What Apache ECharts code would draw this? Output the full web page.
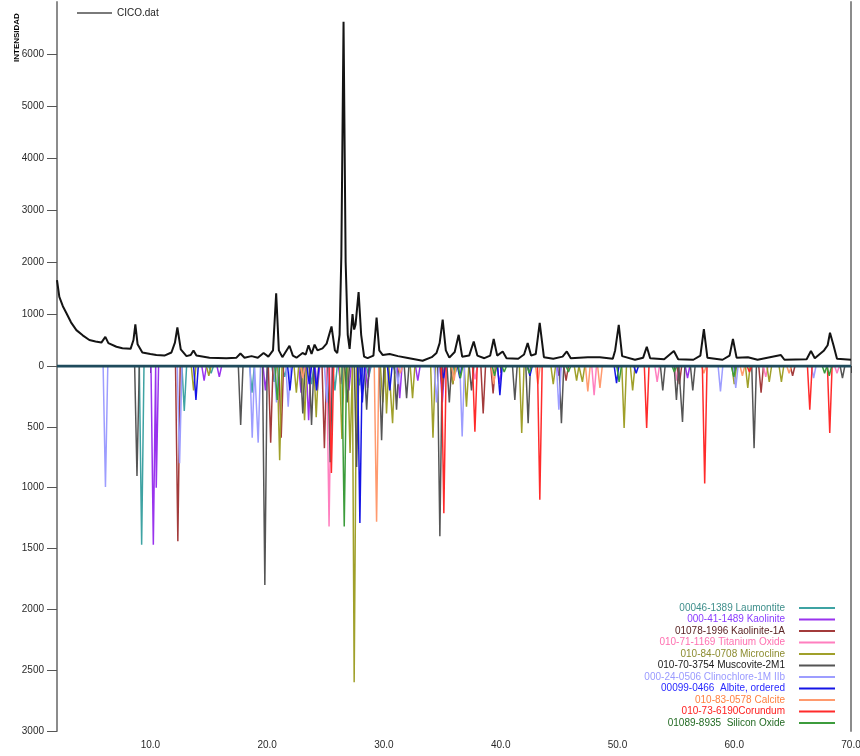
<!DOCTYPE html>
<html><head><meta charset="utf-8">
<script src="https://cdn.jsdelivr.net/npm/echarts@6/dist/echarts.min.js"></script>
<style>html,body{margin:0;padding:0;background:#fff}#c{width:860px;height:756px}</style>
</head><body><div id="c"></div>
<script>
// ---------- DATA ----------
const xTickValues = [10, 20, 30, 40, 50, 60, 70];
const yTopTicks = [0, 1000, 2000, 3000, 4000, 5000, 6000];
const yBottomTicks = [500, 1000, 1500, 2000, 2500, 3000];
const axisTitle = 'INTENSIDAD';
const observedName = 'CICO.dat';
// measured pattern [2theta, counts]
const observed = [
 [2.0,1650],[2.2,1330],[2.5,1150],[2.8,1020],[3.2,840],[3.66,690],[4.2,590],[4.77,500],[5.3,470],[5.8,450],
 [6.14,560],[6.4,440],[7.09,370],[7.6,340],[8.3,330],[8.55,500],[8.71,800],[8.9,420],[9.31,260],[10.0,230],
 [10.51,210],[11.2,200],[11.8,260],[12.1,450],[12.31,740],[12.6,320],[13.09,190],[13.45,210],[13.69,300],[13.94,200],
 [15.06,160],[16.5,150],[17.37,160],[17.71,240],[18.06,160],[18.66,190],[19.2,160],[19.69,250],[20.1,180],[20.5,300],
 [20.77,1400],[21.0,300],[21.3,170],[21.91,390],[22.2,200],[22.51,160],[23.03,250],[23.3,220],[23.54,400],[23.8,230],
 [24.06,410],[24.31,300],[24.74,340],[25.09,430],[25.51,760],[25.8,300],[26.0,250],[26.2,600],[26.35,2100],[26.54,6620],
 [26.72,2000],[26.9,600],[27.06,330],[27.31,1000],[27.45,700],[27.57,800],[27.83,1420],[28.05,600],[28.3,180],[28.6,150],
 [29.1,200],[29.37,930],[29.6,300],[29.9,210],[30.49,230],[31.2,190],[31.94,160],[33.31,100],[34.09,170],[34.5,250],
 [34.77,440],[35.03,890],[35.3,300],[35.6,160],[36.06,270],[36.4,600],[36.7,180],[37.3,200],[37.69,470],[38.0,200],
 [38.6,150],[39.1,200],[39.4,520],[39.7,200],[40.17,280],[40.5,150],[41.5,140],[42.0,220],[42.31,440],[42.6,200],
 [43.0,230],[43.34,830],[43.7,170],[44.5,140],[45.3,180],[45.66,280],[46.0,150],[47.46,170],[48.49,170],[49.6,140],
 [49.8,300],[50.11,790],[50.4,190],[51.5,120],[52.2,160],[52.51,370],[52.8,150],[54.0,130],[54.83,290],[55.2,130],
 [56.5,120],[57.1,200],[57.4,710],[57.7,160],[59.0,120],[59.6,200],[59.89,520],[60.2,160],[61.17,170],[62.0,120],
 [64.0,210],[64.3,120],[66.2,130],[66.57,290],[66.9,150],[67.69,300],[68.0,400],[68.2,640],[68.5,400],[68.8,140],[70.0,120]
];
const phaseNames = [
 '00046-1389 Laumontite','000-41-1489 Kaolinite','01078-1996 Kaolinite-1A','010-71-1169 Titanium Oxide',
 '010-84-0708 Microcline','010-70-3754 Muscovite-2M1','000-24-0506 Clinochlore-1M IIb','00099-0466  Albite, ordered',
 '010-83-0578 Calcite','010-73-6190Corundum','01089-8935  Silicon Oxide'
];
// reference peaks [2theta, intensity]
const laumontite = [[9.25,1470],[12.9,370],[15.2,60],[18.7,220],[20.6,130],[21.5,90],[23.8,150],[25.8,200],[27.9,160],[28.7,90],[31.0,60],[35.0,100],[36.1,60]];
const kaolinite41 = [[10.25,1470],[10.5,1000],[14.6,120],[15.9,90],[19.85,200],[22.9,220],[23.55,445],[24.3,200],[26.3,150],[27.0,200],[28.6,180],[31.35,265],[32.9,120],[35.0,300],[39.9,150],[45.0,80],[56.0,100]];
const kaolinite1A = [[12.35,1440],[20.3,630],[21.2,590],[24.9,675],[35.0,200],[35.9,150],[38.5,390],[39.35,225],[45.6,120],[55.3,150],[62.3,220],[65.0,80]];
const titaniumOxide = [[25.3,1320],[37.8,110],[48.0,240],[53.4,130],[55.1,120],[62.7,90],[68.8,60]];
const microcline = [[13.7,200],[15.0,80],[21.07,775],[22.5,220],[23.2,445],[24.2,420],[26.4,600],[27.1,715],[27.45,2600],[29.9,300],[30.22,390],[30.74,470],[32.45,265],[34.2,590],[35.9,150],[37.07,335],[41.8,550],[44.5,150],[46.5,120],[47.0,130],[50.57,510],[51.3,200],[60.0,150],[61.16,180],[63.0,130],[64.04,130]];
const muscovite = [[8.85,905],[17.73,485],[19.8,1800],[23.05,390],[23.8,485],[25.4,790],[26.85,300],[27.66,830],[28.52,360],[29.8,610],[31.08,360],[31.94,265],[34.79,1400],[35.6,300],[37.5,200],[41.21,280],[42.35,470],[45.2,470],[53.88,200],[55.05,280],[55.57,460],[56.45,200],[61.7,675],[69.27,100]];
const clinochlore = [[6.15,995],[12.5,800],[18.72,590],[19.23,630],[20.8,300],[21.8,335],[25.1,300],[31.2,150],[34.5,300],[36.7,580],[44.98,360],[58.82,210],[60.13,180],[66.8,100]];
const albite = [[13.9,280],[21.95,200],[23.6,150],[24.23,200],[27.94,1290],[28.15,300],[30.5,200],[35.1,100],[36.5,100],[39.93,240],[42.5,80],[49.92,140],[51.6,60]];
const calcite = [[23.05,100],[29.37,1280],[31.4,60],[36.0,120],[39.4,150],[43.18,150],[47.46,210],[48.5,180],[57.4,60],[60.7,80],[64.7,60]];
const corundum = [[25.5,880],[35.13,1210],[37.79,540],[43.35,1100],[52.5,510],[57.47,965],[61.3,50],[66.47,360],[68.18,550]];
const siliconOxide = [[20.86,280],[26.6,1320],[36.55,100],[39.47,80],[40.3,50],[42.45,60],[45.8,50],[50.14,130],[54.87,50],[59.96,90],[67.74,60],[68.14,80]];

// ---------- STYLE ----------
const phaseData = [laumontite,kaolinite41,kaolinite1A,titaniumOxide,microcline,muscovite,clinochlore,albite,calcite,corundum,siliconOxide];
const lineColors = ['#3ea3a3','#9933ee','#a33b3b','#ff7fbf','#a0a02a','#555555','#9d9dff','#1515e6','#ff9a6e','#ff2b2b','#3c9c3c'];
const textColors = ['#3f8f8c','#8a3cff','#5a2424','#ff6fb0','#8c8c30','#1a1a1a','#9a9aff','#2a2aff','#ff8040','#ff2020','#246b24'];
const FONT = 'Liberation Sans, Arial, sans-serif';
const X0 = 2, X1 = 70;

function stickLine(peaks){
  const w = 0.2;
  const pts = [[X0,0]];
  peaks.slice().sort((a,b)=>a[0]-b[0]).forEach(([p,h])=>{ pts.push([p-w,0],[p,h],[p+w,0]); });
  pts.push([X1,0]);
  return pts;
}

const chart = echarts.init(document.getElementById('c'), null, {renderer:'canvas'});
const axisGray = '#8c8c8c';

const series = [{
  name: observedName, type:'line', xAxisIndex:0, yAxisIndex:0, data: observed,
  symbol:'none', lineStyle:{color:'#141414', width:2}, itemStyle:{color:'#141414'}, animation:false, z:3
}];
phaseNames.forEach((n,i)=>{
  series.push({name:n, type:'line', xAxisIndex:1, yAxisIndex:1, data: stickLine(phaseData[i]),
    symbol:'none', lineStyle:{color:lineColors[i], width:1.5}, itemStyle:{color:lineColors[i]}, animation:false, z:2});
});
series.push({name:'baseline', type:'line', xAxisIndex:1, yAxisIndex:1, data:[[X0,0],[X1,0]],
  symbol:'none', lineStyle:{color:'#1f4b5c', width:3}, silent:true, animation:false, z:4});

const legends = [{
  data:[observedName], left:77, top:8, itemWidth:35, itemHeight:2, icon:'rect', padding:0,
  itemStyle:{color:'#7a7a7a'}, textStyle:{fontSize:10, fontFamily:FONT, color:'#222'}, selectedMode:false
}];
phaseNames.forEach((n,i)=>{
  legends.push({data:[{name:n, textStyle:{color:textColors[i]}}], right:25, top: 603 + i*11.5, align:'right',
    itemWidth:36, itemHeight:2, icon:'rect', padding:0, selectedMode:false,
    textStyle:{fontSize:10, fontFamily:FONT, padding:[0,9,0,0]}});
});

const yLabelStyle = {fontSize:10, fontFamily:FONT, color:'#2a2a2a', margin:13, formatter:v=>String(v)};

chart.setOption({
  backgroundColor:'#ffffff',
  animation:false,
  textStyle:{fontFamily:FONT},
  legend: legends,
  grid:[
    {left:57, right:9, top:2, height:364, outerBoundsMode:'none', containLabel:false},
    {left:57, right:9, top:366, height:365, outerBoundsMode:'none', containLabel:false}
  ],
  xAxis:[
    {type:'value', gridIndex:0, min:X0, max:X1, show:false},
    {type:'value', gridIndex:1, min:X0, max:X1,
      axisLine:{show:true, lineStyle:{color:axisGray, width:2}},
      axisTick:{show:true, customValues:xTickValues, length:7, lineStyle:{color:'#444', width:1}},
      axisLabel:{customValues:xTickValues, formatter:v=>Number(v).toFixed(1), fontSize:10, fontFamily:FONT, color:'#2a2a2a', margin:9},
      splitLine:{show:false}}
  ],
  yAxis:[
    {type:'value', gridIndex:0, min:0, max:7000, position:'left',
      axisLine:{show:true, lineStyle:{color:axisGray, width:2}},
      axisTick:{show:true, customValues:yTopTicks, length:10, lineStyle:{color:'#555'}},
      axisLabel:Object.assign({customValues:yTopTicks}, yLabelStyle),
      splitLine:{show:false}},
    {type:'value', gridIndex:1, min:0, max:3000, inverse:true, position:'left',
      axisLine:{show:true, lineStyle:{color:axisGray, width:2}},
      axisTick:{show:true, customValues:yBottomTicks, length:10, lineStyle:{color:'#555'}},
      axisLabel:Object.assign({customValues:yBottomTicks}, yLabelStyle),
      splitLine:{show:false}},
    {type:'value', gridIndex:0, min:0, max:7000, position:'right',
      axisLine:{show:true, lineStyle:{color:axisGray, width:2}}, axisTick:{show:false}, axisLabel:{show:false}, splitLine:{show:false}},
    {type:'value', gridIndex:1, min:0, max:3000, inverse:true, position:'right',
      axisLine:{show:true, lineStyle:{color:axisGray, width:2}}, axisTick:{show:false}, axisLabel:{show:false}, splitLine:{show:false}}
  ],
  graphic:[{
    type:'text', x:17, y:62, rotation:Math.PI/2,
    style:{text:axisTitle, font:'bold 8px '+FONT, fill:'#000', textAlign:'left', textVerticalAlign:'middle'}
  }],
  series: series
});
</script>
</body></html>
